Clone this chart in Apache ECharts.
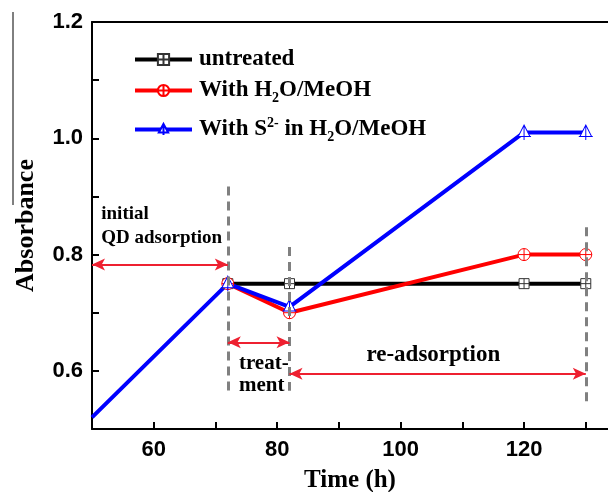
<!DOCTYPE html>
<html>
<head>
<meta charset="utf-8">
<script src="https://cdn.jsdelivr.net/npm/echarts@6/dist/echarts.min.js"></script>
<style>
  html, body { margin: 0; padding: 0; background: #fff; }
  #main { width: 608px; height: 492px; }
</style>
</head>
<body>
<div id="main"></div>
<script>
var dom = document.getElementById('main');
var myChart = echarts.init(dom, null, { renderer: 'canvas' });

// data
const timeH = [50, 72, 82, 120, 130];
const untreated = [null, 0.75, 0.75, 0.75, 0.75];
const withH2O = [null, 0.75, 0.70, 0.80, 0.80];
const withS2 = [0.52, 0.75, 0.71, 1.01, 1.01];
const xLabels = [60, 80, 100, 120];
const yLabels = [0.6, 0.8, 1.0, 1.2];

// annotation positions (data units)
const stageBounds = [72, 82, 130];
const dashTop = [0.917, 0.813, 0.847];
const dashBottom = [0.566, 0.566, 0.545];
const arrowSpans = [[50, 72, 0.783], [72, 82, 0.649], [82, 130, 0.595]];

const serif = '"Liberation Serif", "Times New Roman", serif';
const sans = '"Liberation Sans", Arial, sans-serif';

function pairs(ys) {
    var out = [];
    ys.forEach(function (v, i) {
        if (v !== null) out.push([timeH[i], v]);
    });
    return out;
}

const symSquare = 'path://M0,0H10V10H0Z M5,0V10 M0,5H10';
const symCircle = 'path://M0,5A5,5,0,1,1,10,5A5,5,0,1,1,0,5Z M5,0V10 M0,5H10';
const symTri = 'path://M6,0L11,10H1Z M6,0V13 M0,10H12';

var blueData = pairs(withS2);
blueData[0] = { value: blueData[0], symbol: 'none' };

var markLines = [];
stageBounds.forEach(function (x, i) {
    markLines.push([
        { coord: [x, dashTop[i]], symbol: 'none',
          lineStyle: { color: '#808080', width: 3, type: [9, 6] } },
        { coord: [x, dashBottom[i]], symbol: 'none' }
    ]);
});
arrowSpans.forEach(function (a) {
    markLines.push([
        { coord: [a[0], a[2]], lineStyle: { color: '#ee2030', width: 2, type: 'solid' } },
        { coord: [a[1], a[2]] }
    ]);
});

var rich = {
    b: { fontFamily: serif, fontWeight: 'bold', fontSize: 23, color: '#000' },
    sub: { fontFamily: serif, fontWeight: 'bold', fontSize: 14, color: '#000', padding: [15, 0, 0, 0] },
    sup: { fontFamily: serif, fontWeight: 'bold', fontSize: 14, color: '#000', padding: [0, 0, 13, 0] }
};
function legendFmt(name) {
    if (name === 'untreated') return '{b|untreated}';
    if (name === 'With H2O/MeOH') return '{b|With H}{sub|2}{b|O/MeOH}';
    return '{b|With S}{sup|2-}{b| in H}{sub|2}{b|O/MeOH}';
}
function oneLegend(name, top) {
    return {
        data: [name], left: 133, top: top, orient: 'vertical', padding: 0,
        itemWidth: 57, itemHeight: 14, selectedMode: false,
        lineStyle: { width: 4 },
        formatter: legendFmt,
        textStyle: { rich: rich, padding: [0, 0, 0, 2] }
    };
}

var option = {
    animation: false,
    backgroundColor: '#fff',
    grid: { left: 92, right: 0, top: 22, bottom: 63, outerBoundsMode: 'none', containLabel: false },
    legend: [
        oneLegend('untreated', 48),
        oneLegend('With H2O/MeOH', 79),
        oneLegend('With S2- in H2O/MeOH', 116)
    ],
    xAxis: [{
        type: 'value', min: 50, max: 133.6, interval: 10,
        name: 'Time (h)', nameLocation: 'middle', nameGap: 39,
        nameTextStyle: { fontFamily: serif, fontWeight: 'bold', fontSize: 25, color: '#000' },
        splitLine: { show: false },
        axisLine: { lineStyle: { color: '#000', width: 2 } },
        axisTick: { inside: true, length: 7, lineStyle: { color: '#000', width: 2 } },
        axisLabel: {
            margin: 10, fontFamily: sans, fontWeight: 'bold', fontSize: 22, color: '#000',
            showMaxLabel: false,
            formatter: function (v) { return xLabels.indexOf(v) >= 0 ? String(v) : ''; }
        }
    }, {
        type: 'value', position: 'top', min: 50, max: 133.6,
        axisLine: { show: true, onZero: false, lineStyle: { color: '#000', width: 2 } },
        axisTick: { show: false }, axisLabel: { show: false }, splitLine: { show: false }
    }],
    yAxis: {
        type: 'value', min: 0.5, max: 1.2, interval: 0.1,
        name: 'Absorbance', nameLocation: 'middle', nameGap: 53,
        nameTextStyle: { fontFamily: serif, fontWeight: 'bold', fontSize: 26, color: '#000' },
        splitLine: { show: false },
        axisLine: { lineStyle: { color: '#000', width: 2 } },
        axisTick: { inside: true, length: 7, lineStyle: { color: '#000', width: 2 } },
        axisLabel: {
            margin: 9, fontFamily: sans, fontWeight: 'bold', fontSize: 22, color: '#000',
            formatter: function (v) {
                var r = Math.round(v * 10) / 10;
                return yLabels.indexOf(r) >= 0 ? r.toFixed(1) : '';
            }
        }
    },
    series: [{
        name: 'untreated', type: 'line', data: pairs(untreated),
        symbol: symSquare, symbolSize: 10,
        lineStyle: { color: '#000', width: 4 },
        itemStyle: { color: '#fff', borderColor: '#333', borderWidth: 1 },
        markLine: { silent: true, symbol: ['arrow', 'arrow'], symbolSize: [9, 13],
                    label: { show: false }, data: markLines }
    }, {
        name: 'With H2O/MeOH', type: 'line', data: pairs(withH2O),
        symbol: symCircle, symbolSize: 12,
        lineStyle: { color: '#ff0000', width: 4 },
        itemStyle: { color: '#fff', borderColor: '#ff0000', borderWidth: 1 }
    }, {
        name: 'With S2- in H2O/MeOH', type: 'line', data: blueData,
        symbol: symTri, symbolSize: [14, 15],
        lineStyle: { color: '#0000ff', width: 4 },
        itemStyle: { color: '#fff', borderColor: '#0000ff', borderWidth: 1 }
    }]
};

myChart.setOption(option);

// annotation texts placed in data coordinates
function px(x, y) { return myChart.convertToPixel({ gridIndex: 0 }, [x, y]); }
function label(x, y, text, size, align) {
    var p = px(x, y);
    return { type: 'text', x: p[0], y: p[1], silent: true,
             style: { text: text, align: align || 'left', verticalAlign: 'middle',
                      fontFamily: serif, fontWeight: 'bold', fontSize: size, fill: '#000' } };
}
myChart.setOption({
    graphic: [
        label(51.5, 0.870, 'initial', 19),
        label(51.5, 0.828, 'QD adsorption', 19),
        label(73.8, 0.613, 'treat-', 21),
        label(73.8, 0.574, 'ment', 21),
        label(105.3, 0.627, 're-adsorption', 23, 'center'),
        { type: 'line', silent: true, shape: { x1: 13, y1: 12, x2: 13, y2: 205 },
          style: { stroke: '#000', lineWidth: 1 } }
    ]
});

window.addEventListener('resize', myChart.resize);
</script>
</body>
</html>
